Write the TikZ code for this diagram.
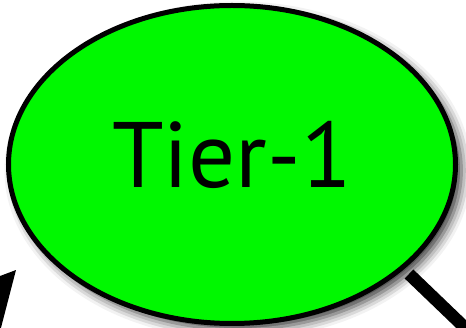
\documentclass[tikz,border=0pt]{standalone}
\usepackage{fontspec}
\setmainfont{PT Sans}
\usetikzlibrary{shapes.geometric, arrows.meta, shadows.blur}
\definecolor{tiergreen}{RGB}{0,248,0}

\tikzset{
  tierbox/.style={ellipse, draw=black, fill=tiergreen, line width=5pt,
    minimum width=447pt, minimum height=318pt, inner sep=0pt, text depth=20pt,
    blur shadow={shadow xshift=6pt, shadow yshift=-6pt, shadow blur radius=10pt, shadow opacity=80},
    font=\fontsize{93}{93}\selectfont},
  link/.style={draw=black, line width=12.5pt}
}

\begin{document}
\begin{tikzpicture}[x=1pt, y=-1pt]
  \useasboundingbox (0,0) rectangle (466,328);

  % connectors leaving the picture
  \coordinate (intip) at (16,270);
  \coordinate (infrom) at (-84,381);
  \coordinate (outfrom) at (409,274);
  \coordinate (outto) at (509,370);

  \node[tierbox] (tier) at (232,164.5) {Tier-1};

  \draw[line width=3pt, -{Triangle[length=70pt, width=72pt]}] (infrom) -- (intip);
  \draw[link] (outfrom) -- (outto);
\end{tikzpicture}
\end{document}
